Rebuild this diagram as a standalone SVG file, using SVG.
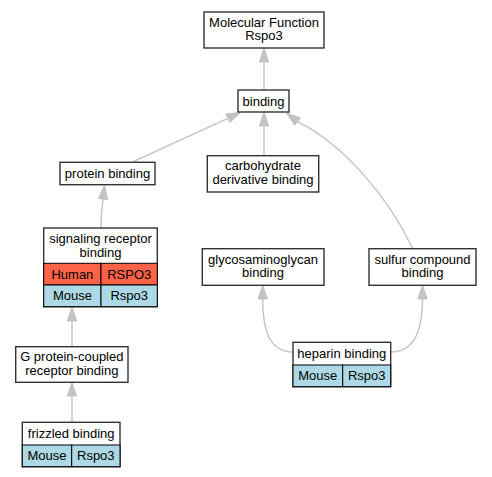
<svg xmlns="http://www.w3.org/2000/svg" width="492" height="477" viewBox="0 0 492 477">
<style>
text{font-family:"Liberation Sans",Arial,sans-serif;font-size:13px;fill:#000;text-anchor:middle}
.box{fill:#fff;stroke:#333;stroke-width:1.4}
.cell{stroke:#000;stroke-width:1}
.human{fill:#ff6347}
.mouse{fill:#add8e6}
.edge{fill:none;stroke:#c3c3c3;stroke-width:1.4}
.head{fill:#c3c3c3;stroke:#c3c3c3;stroke-width:1}
</style>
<rect width="492" height="477" fill="#fff"/>
<g id="connectors">
<path class="edge" d="M264,90 L264,62"/>
<polygon class="head" points="264,48 259.3,62 268.7,62"/>
<path class="edge" d="M133.3,161.7 L227.8,118.3"/>
<polygon class="head" points="240.5,112.5 229.8,122.6 225.8,114"/>
<path class="edge" d="M264,155.7 L264,126"/>
<polygon class="head" points="264,112 259.3,126 268.7,126"/>
<path class="edge" d="M412.7,248.7 C390,200 345,145 297.5,121.6"/>
<polygon class="head" points="286.5,113 300.4,117.9 294.6,125.3"/>
<path class="edge" d="M101,228 C101,215 102,206 103,199"/>
<polygon class="head" points="104.5,185 98.3,198.5 107.7,199.5"/>
<path class="edge" d="M72,347 L72,321"/>
<polygon class="head" points="72,307 67.3,321 76.7,321"/>
<path class="edge" d="M72,422 L72,396"/>
<polygon class="head" points="72,382.3 67.3,396 76.7,396"/>
<path class="edge" d="M293,352 C272,352 262.7,335 262.7,299"/>
<polygon class="head" points="262.7,285.3 258,299 267.4,299"/>
<path class="edge" d="M391,352 C412,352 422.5,335 422.5,299"/>
<polygon class="head" points="422.5,285.3 417.8,299 427.2,299"/>
</g>
<g id="mf">
<rect class="box" x="204" y="12" width="120" height="36"/>
<text x="264" y="26.5">Molecular Function</text>
<text x="264" y="40">Rspo3</text>
</g>
<g id="binding">
<rect class="box" x="238" y="90" width="51" height="22"/>
<text x="263.5" y="105.5">binding</text>
</g>
<g id="protein_binding">
<rect class="box" x="60" y="162.3" width="95" height="22.4"/>
<text x="107.5" y="178">protein binding</text>
</g>
<g id="carb">
<rect class="box" x="207.3" y="155.7" width="111.4" height="36.3"/>
<text x="263" y="170">carbohydrate</text>
<text x="263" y="183.5">derivative binding</text>
</g>
<g id="signaling">
<rect class="box" x="43.7" y="228" width="113.6" height="78.7"/>
<rect class="cell human" x="43.7" y="263.3" width="57.3" height="21.7"/>
<rect class="cell human" x="101" y="263.3" width="56.3" height="21.7"/>
<rect class="cell mouse" x="43.7" y="285" width="57.3" height="21.7"/>
<rect class="cell mouse" x="101" y="285" width="56.3" height="21.7"/>
<text x="100.5" y="243">signaling receptor</text>
<text x="100.5" y="256.5">binding</text>
<text x="72.4" y="278.5">Human</text>
<text x="129.2" y="278.5">RSPO3</text>
<text x="72.4" y="300">Mouse</text>
<text x="129.2" y="300">Rspo3</text>
</g>
<g id="glyco">
<rect class="box" x="202.3" y="248.7" width="121.7" height="36.6"/>
<text x="263" y="263.5">glycosaminoglycan</text>
<text x="263" y="277">binding</text>
</g>
<g id="sulfur">
<rect class="box" x="369" y="248.7" width="107" height="36.6"/>
<text x="422.5" y="263.5">sulfur compound</text>
<text x="422.5" y="277">binding</text>
</g>
<g id="heparin">
<rect class="box" x="293" y="342.3" width="97.7" height="44.4"/>
<rect class="cell mouse" x="293" y="365" width="49.7" height="21.7"/>
<rect class="cell mouse" x="342.7" y="365" width="48" height="21.7"/>
<text x="341.8" y="357.5">heparin binding</text>
<text x="317.8" y="380">Mouse</text>
<text x="366.7" y="380">Rspo3</text>
</g>
<g id="gpcr">
<rect class="box" x="15.7" y="346.7" width="112.3" height="35.6"/>
<text x="71.8" y="361">G protein-coupled</text>
<text x="71.8" y="374.5">receptor binding</text>
</g>
<g id="frizzled">
<rect class="box" x="22.3" y="422.3" width="97.7" height="44.4"/>
<rect class="cell mouse" x="22.3" y="445" width="49.4" height="21.7"/>
<rect class="cell mouse" x="71.7" y="445" width="48.3" height="21.7"/>
<text x="71.2" y="437.5">frizzled binding</text>
<text x="47" y="460">Mouse</text>
<text x="95.8" y="460">Rspo3</text>
</g>
</svg>
